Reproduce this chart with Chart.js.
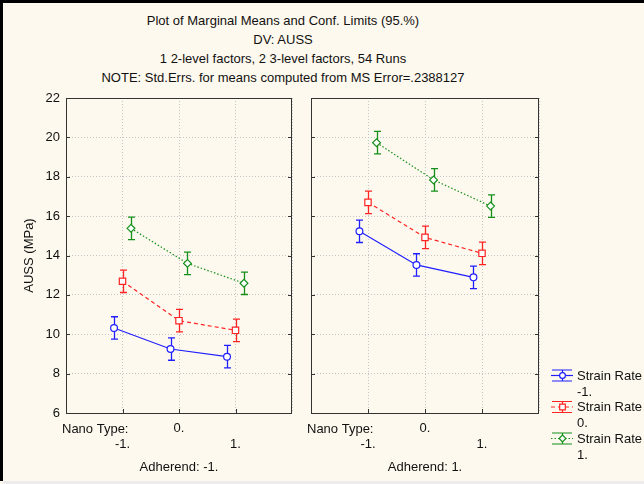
<!doctype html>
<html lang="en">
<head>
  <meta charset="utf-8">
  <title>Marginal means</title>
  <style>
    body { margin: 0; background: #fef9ee; }
    #wrap {
      position: relative; width: 644px; height: 484px; overflow: hidden;
      background: #fef9ee; font-family: "Liberation Sans", Arial, sans-serif; color: #111;
    }
    .edge-top { position: absolute; left: 0; top: 0; width: 644px; height: 3px; background: #000; }
    .edge-left { position: absolute; left: 0; top: 0; width: 3px; height: 481px; background: #000; }
    .edge-bottom { position: absolute; left: 3px; top: 481px; width: 641px; height: 3px; background: #ececec; }
    .title {
      position: absolute; left: 0; top: 11px; width: 566px;
      text-align: center; font-size: 13px; line-height: 19px;
    }
    canvas { position: absolute; top: 0; }
    #left { left: 0; }
    #right { left: 300px; }
  </style>
</head>
<body>
<div id="wrap">
  <div class="edge-top"></div>
  <div class="edge-left"></div>
  <div class="edge-bottom"></div>
  <div class="title">
    Plot of Marginal Means and Conf. Limits (95.%)<br>
    DV: AUSS<br>
    1 2-level factors, 2 3-level factors, 54 Runs<br>
    NOTE: Std.Errs. for means computed from MS Error=.2388127
  </div>
  <canvas id="left" width="300" height="484"></canvas>
  <canvas id="right" width="344" height="484"></canvas>
</div>

<script src="https://cdn.jsdelivr.net/npm/chart.js@4.4.0/dist/chart.umd.min.js"></script>
<script>
  // Nano Type levels on the x axis
  const nanoLevels = [-1, 0, 1];
  const strainRates = ['-1.', '0.', '1.'];
  const yTicks = [6, 8, 10, 12, 14, 16, 18, 20, 22];

  // AUSS means, Adherend -1
  const adhNeg_rateNeg = [10.32, 9.25, 8.86];
  const adhNeg_rate0 = [12.69, 10.69, 10.20];
  const adhNeg_ratePos = [15.38, 13.60, 12.59];

  // AUSS means, Adherend 1
  const adhPos_rateNeg = [15.23, 13.52, 12.89];
  const adhPos_rate0 = [16.70, 14.92, 14.11];
  const adhPos_ratePos = [19.73, 17.84, 16.51];

  // 95% confidence half-width (same for every cell)
  const ciHalf = 0.57;

  const colors = ['#1f1fff', '#ff2424', '#14901a'];
  const dashes = [[], [4, 3], [1.5, 2]];
  const markers = ['circle', 'rect', 'rectRot'];
  const radii = [3.4, 4.5, 3.9];
  const dodge = [-0.15, 0, 0.15];

  Chart.defaults.font.family = '"Liberation Sans", Arial, sans-serif';
  Chart.defaults.font.size = 13;
  Chart.defaults.color = '#111';

  const errorBars = {
    id: 'errorBars',
    beforeDatasetsDraw(chart) {
      const {ctx, scales: {x, y}} = chart;
      chart.data.datasets.forEach(ds => {
        ctx.save();
        ctx.strokeStyle = ds.borderColor;
        ctx.lineWidth = 1.3;
        ds.data.forEach(p => {
          const px = Math.round(x.getPixelForValue(p.x)) + 0.5;
          const t = y.getPixelForValue(p.y + ds.ci);
          const b = y.getPixelForValue(p.y - ds.ci);
          ctx.beginPath();
          ctx.moveTo(px, t); ctx.lineTo(px, b);
          ctx.moveTo(px - 3.5, t); ctx.lineTo(px + 3.5, t);
          ctx.moveTo(px - 3.5, b); ctx.lineTo(px + 3.5, b);
          ctx.stroke();
        });
        ctx.restore();
      });
    }
  };

  const frame = {
    id: 'frame',
    afterDraw(chart) {
      const {ctx, chartArea: a, scales: {x, y}} = chart;
      ctx.save();
      ctx.strokeStyle = '#333';
      ctx.lineWidth = 1;
      ctx.strokeRect(a.left + 0.5, a.top + 0.5, a.right - a.left - 1, a.bottom - a.top);
      ctx.beginPath();
      yTicks.forEach(v => {
        const py = Math.round(y.getPixelForValue(v)) + 0.5;
        ctx.moveTo(a.left, py); ctx.lineTo(a.left + 4, py);
        ctx.moveTo(a.right - 4, py); ctx.lineTo(a.right, py);
      });
      nanoLevels.forEach(v => {
        const px = Math.round(x.getPixelForValue(v)) + 0.5;
        ctx.moveTo(px, a.bottom); ctx.lineTo(px, a.bottom - 4);
      });
      ctx.stroke();
      ctx.fillStyle = '#111';
      ctx.font = '13px "Liberation Sans", Arial, sans-serif';
      ctx.textBaseline = 'middle';
      ctx.textAlign = 'left';
      ctx.fillText('Nano Type:', a.left - 4, a.bottom + 16);

      if (chart.options.plugins.sideLegend.show) {
        const lx = a.right + 12;
        chart.data.datasets.forEach((ds, i) => {
          const iy = 375 + 31.5 * i;
          ctx.strokeStyle = ds.borderColor;
          ctx.lineWidth = 1.2;
          ctx.setLineDash(ds.borderDash);
          ctx.beginPath();
          ctx.moveTo(lx, iy + 0.5); ctx.lineTo(lx + 22, iy + 0.5);
          ctx.stroke();
          ctx.setLineDash([]);
          ctx.beginPath();
          ctx.moveTo(lx + 1, iy - 5); ctx.lineTo(lx + 21, iy - 5);
          ctx.moveTo(lx + 1, iy + 6); ctx.lineTo(lx + 21, iy + 6);
          ctx.moveTo(lx + 11.5, iy - 5); ctx.lineTo(lx + 11.5, iy + 6);
          ctx.stroke();
          ctx.fillStyle = '#fff';
          Chart.helpers.drawPoint(ctx, {
            pointStyle: ds.pointStyle, radius: ds.pointRadius - 0.5,
            rotation: 0, borderWidth: 1.2
          }, lx + 11.5, iy + 0.5);
          ctx.fillStyle = '#111';
          ctx.fillText('Strain Rate', lx + 26, iy + 1);
          ctx.fillText(strainRates[i], lx + 26, iy + 17);
        });
      }
      ctx.restore();
    }
  };

  function makeDatasets(seriesList) {
    return seriesList.map((means, i) => ({
      label: 'Strain Rate ' + strainRates[i],
      data: nanoLevels.map((lv, j) => ({x: lv + dodge[i], y: means[j]})),
      ci: ciHalf,
      showLine: true,
      borderColor: colors[i],
      borderWidth: 1.2,
      borderDash: dashes[i],
      pointStyle: markers[i],
      pointRadius: radii[i],
      pointBorderWidth: 1.2,
      pointBackgroundColor: '#fff',
      pointBorderColor: colors[i],
      tension: 0
    }));
  }

  function makeChart(id, seriesList, adherend, isLeft) {
    return new Chart(document.getElementById(id), {
      type: 'scatter',
      data: {datasets: makeDatasets(seriesList)},
      options: {
        responsive: false,
        animation: false,
        events: [],
        layout: {padding: isLeft ? {top: 98, right: 5, bottom: 9, left: 0}
                                 : {top: 98, right: 105, bottom: 9, left: 11}},
        plugins: {legend: {display: false}, tooltip: {enabled: false},
                  sideLegend: {show: !isLeft}},
        scales: {
          x: {
            type: 'linear', min: -2, max: 2,
            afterFit: s => { s.height = 62; },
            grid: {color: '#c4c4c4', drawTicks: false},
            border: {display: false, dash: [1, 2]},
            ticks: {
              stepSize: 1, autoSkip: false, maxRotation: 0, padding: 8,
              callback: v => v === 0 ? ['0.', ''] : (v === -1 || v === 1) ? ['', v + '.'] : ''
            },
            title: {display: true, text: 'Adherend: ' + adherend,
                    padding: {top: 0, bottom: 0}}
          },
          y: {
            min: 6, max: 22,
            afterFit: s => { s.width = isLeft ? 66 : 0; },
            grid: {color: '#c4c4c4', drawTicks: false},
            border: {display: false, dash: [1, 2]},
            ticks: {display: isLeft, stepSize: 2, padding: 6},
            title: {display: isLeft, text: 'AUSS (MPa)',
                    padding: {top: 22, bottom: 0}}
          }
        }
      },
      plugins: [errorBars, frame]
    });
  }

  makeChart('left', [adhNeg_rateNeg, adhNeg_rate0, adhNeg_ratePos], '-1.', true);
  makeChart('right', [adhPos_rateNeg, adhPos_rate0, adhPos_ratePos], '1.', false);
</script>
</body>
</html>
